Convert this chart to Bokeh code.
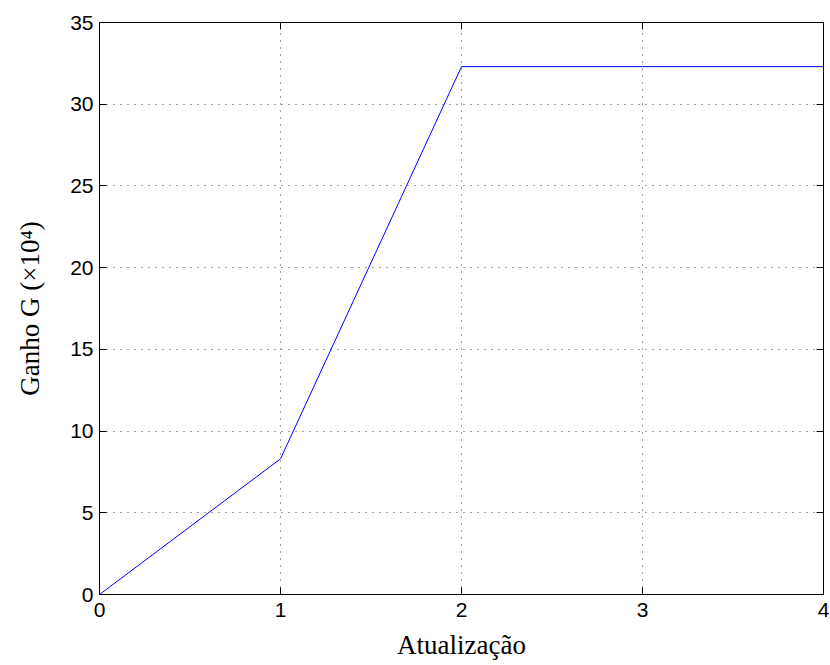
from bokeh.plotting import figure
from bokeh.models import LinearAxis, Range1d, FixedTicker, CustomLabelingPolicy
from bokeh.embed import file_html
from bokeh.resources import INLINE

x_vals = [0, 1, 2, 3, 4]
gain_vals = [0, 8.3, 32.3, 32.3, 32.3]
x_ticks = [0, 1, 2, 3, 4]
y_ticks = [0, 5, 10, 15, 20, 25, 30, 35]

p = figure(frame_width=724, frame_height=572, output_backend="svg", toolbar_location=None,
           x_range=Range1d(0, 4), y_range=Range1d(0, 35),
           min_border_left=99, min_border_right=6, min_border_top=22, min_border_bottom=64)
p.line(x_vals, gain_vals, line_color="blue", line_width=1)

p.outline_line_color = "black"
p.outline_line_width = 1
p.background_fill_color = "white"
p.border_fill_color = "white"

for ax, ticks in ((p.xaxis[0], x_ticks), (p.yaxis[0], y_ticks)):
    ax.ticker = FixedTicker(ticks=ticks)
    ax.major_tick_in = 7
    ax.major_tick_out = 0
    ax.minor_tick_in = 0
    ax.minor_tick_out = 0
    ax.axis_line_color = "black"
    ax.major_tick_line_color = "black"
    ax.major_label_text_font = "Liberation Sans"
    ax.major_label_text_font_size = "21px"
    ax.major_label_text_color = "black"
    ax.axis_label_text_font = "Liberation Serif"
    ax.axis_label_text_font_size = "27px"
    ax.axis_label_text_font_style = "normal"
    ax.axis_label_text_color = "black"

p.xaxis[0].axis_label = "Atualização"
p.xaxis[0].major_label_standoff = 8
p.xaxis[0].axis_label_standoff = 10
p.yaxis[0].axis_label = "Ganho G (×10⁴)"
p.yaxis[0].major_label_standoff = 6
p.yaxis[0].axis_label_standoff = 22

no_labels = CustomLabelingPolicy(code="""
for (const i of Array.from(indices)) { indices.set(i, false) }
return indices
""")

for loc, ticks in (("above", x_ticks), ("right", y_ticks)):
    a = LinearAxis(ticker=FixedTicker(ticks=ticks), major_label_policy=no_labels,
                   major_tick_in=7, major_tick_out=0, minor_tick_in=0, minor_tick_out=0,
                   axis_line_color="black", major_tick_line_color="black",
                   major_label_standoff=0)
    p.add_layout(a, loc)

for g in (p.xgrid[0], p.ygrid[0]):
    g.grid_line_color = "#444444"
    g.grid_line_dash = "1 6"
    g.grid_line_width = 1
p.xgrid[0].ticker = FixedTicker(ticks=x_ticks)
p.ygrid[0].ticker = FixedTicker(ticks=y_ticks)

open("out.html", "w").write(file_html(p, INLINE))
